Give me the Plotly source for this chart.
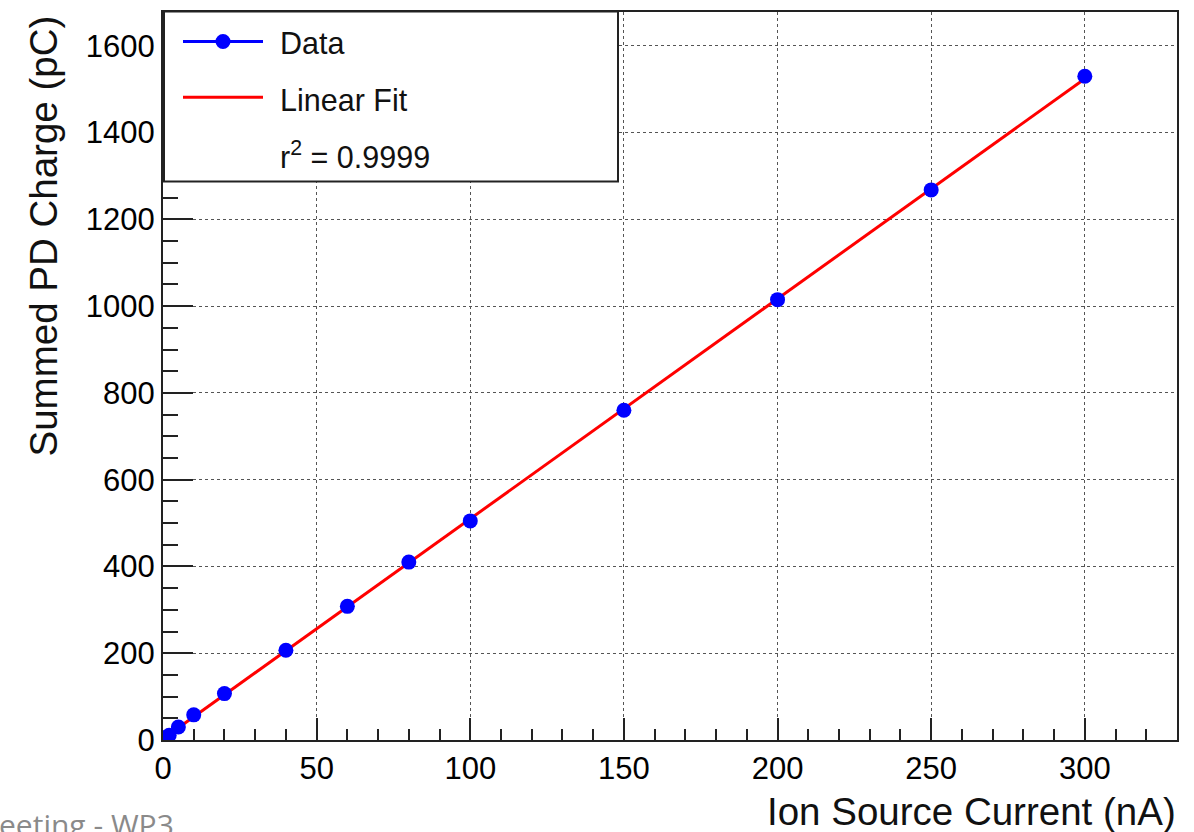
import numpy as np
import plotly.graph_objects as go

# ---- data ----
current_nA = [0.5, 1, 2, 5, 10, 20, 40, 60, 80, 100, 150, 200, 250, 300]
charge_pC = [3, 6, 11, 30, 58, 107, 207, 308, 410, 505, 760, 1015, 1268, 1530]
x_ticks = [0, 50, 100, 150, 200, 250, 300]
y_ticks = [0, 200, 400, 600, 800, 1000, 1200, 1400, 1600]
legend_labels = ["Data", "Linear Fit"]
r2_text = "r<sup>2</sup> = 0.9999"
x_title = "Ion Source Current (nA)"
y_title = "Summed PD Charge (pC)"
footer_text = "eeting - WP3"

# linear fit of the data
slope, intercept = np.polyfit(current_nA, charge_pC, 1)
fit_x = [min(current_nA), max(current_nA)]
fit_y = [slope * v + intercept for v in fit_x]

W, H = 1194, 832
L, R, T, B = 163, 17, 10, 92
PW, PH = W - L - R, H - T - B


def px(x):
    return (x - L) / PW


def py(y):
    return (H - B - y) / PH


FONT = "Liberation Sans, Arial, Helvetica, sans-serif"

fig = go.Figure()
fig.add_trace(go.Scatter(
    x=fit_x, y=fit_y, mode="lines",
    line=dict(color="#ff0000", width=3),
    showlegend=False, hoverinfo="skip"))
fig.add_trace(go.Scatter(
    x=current_nA, y=charge_pC, mode="markers",
    marker=dict(color="#0000ff", size=15, line=dict(width=0)),
    showlegend=False))

axis_common = dict(
    showline=True, linecolor="#222", linewidth=2, mirror=True,
    ticks="inside", tickcolor="#222", tickwidth=1.5,
    showgrid=True, gridcolor="#555", gridwidth=1.3, griddash="dot",
    zeroline=False,
    tickfont=dict(family=FONT, size=31, color="#000"),
)

fig.update_xaxes(
    range=[0, 330], tickvals=x_ticks, ticktext=[str(v) for v in x_ticks],
    ticklen=22,
    minor=dict(ticks="inside", ticklen=11, dtick=10, tickcolor="#222",
               tickwidth=1.5, showgrid=False),
    **axis_common)
fig.update_yaxes(
    range=[0, 1678], tickvals=y_ticks, ticktext=[str(v) for v in y_ticks],
    ticklen=30,
    minor=dict(ticks="inside", ticklen=15, dtick=50, tickcolor="#222",
               tickwidth=1.5, showgrid=False),
    **axis_common)

shapes = []
annotations = []

# legend box
shapes.append(dict(type="rect", xref="paper", yref="paper",
                   x0=px(164), x1=px(618), y0=py(180), y1=py(9.5),
                   line=dict(color="#222", width=2), fillcolor="white",
                   layer="above"))
# Data entry: blue line with marker
shapes.append(dict(type="line", xref="paper", yref="paper",
                   x0=px(183), x1=px(263), y0=py(39.5), y1=py(39.5),
                   line=dict(color="#0000ff", width=3), layer="above"))
r = 7.5
shapes.append(dict(type="circle", xref="paper", yref="paper",
                   x0=px(223 - r), x1=px(223 + r), y0=py(39.5 + r), y1=py(39.5 - r),
                   line=dict(width=0), fillcolor="#0000ff", layer="above"))
# Linear fit entry
shapes.append(dict(type="line", xref="paper", yref="paper",
                   x0=px(183), x1=px(263), y0=py(95.5), y1=py(95.5),
                   line=dict(color="#ff0000", width=3), layer="above"))

for label, yc in zip(legend_labels + [r2_text], [41, 98, 153]):
    annotations.append(dict(text=label, xref="paper", yref="paper",
                            x=px(278), y=py(yc), xanchor="left", yanchor="middle",
                            showarrow=False,
                            font=dict(family=FONT, size=30.5, color="#111")))

# axis titles
annotations.append(dict(text=x_title, xref="paper", yref="paper",
                        x=px(1178), y=py(812), xanchor="right", yanchor="middle",
                        showarrow=False,
                        font=dict(family=FONT, size=38.5, color="#111")))
annotations.append(dict(text=y_title, xref="paper", yref="paper",
                        x=px(43), y=py(12), xanchor="center", yanchor="top",
                        textangle=-90, showarrow=False,
                        font=dict(family=FONT, size=38.5, color="#111")))
# footer fragment
annotations.append(dict(text=footer_text, xref="paper", yref="paper",
                        x=px(-3), y=py(825), xanchor="left", yanchor="middle",
                        showarrow=False,
                        font=dict(family="Open Sans, sans-serif", size=30, color="#8a8a8a")))

fig.update_layout(
    width=W, height=H,
    margin=dict(l=L, r=R, t=T, b=B),
    paper_bgcolor="white", plot_bgcolor="white",
    shapes=shapes, annotations=annotations,
    showlegend=False,
)

fig.write_html("out.html")
